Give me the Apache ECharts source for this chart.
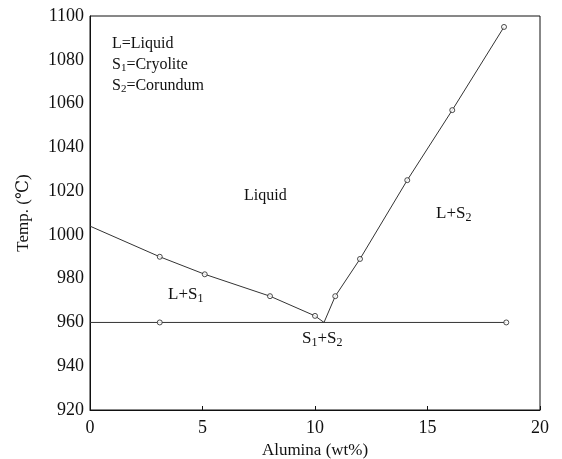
<!DOCTYPE html>
<html>
<head>
<meta charset="utf-8">
<script src="https://cdn.jsdelivr.net/npm/echarts@6/dist/echarts.min.js"></script>
<style>
  html, body { margin: 0; padding: 0; background: #fff; }
  #chart { width: 562px; height: 459px; }
</style>
</head>
<body>
<div id="chart"></div>
<script>
  // liquidus on the cryolite side (measured points + line to eutectic)
  var leftX = [0, 3.1, 5.1, 8.0, 10.0, 10.4]
  var leftT = [1004, 990, 982, 972, 963, 960]
  var leftMeasured = [false, true, true, true, true, false]
  // liquidus on the corundum side
  var rightX = [10.4, 10.9, 12.0, 14.1, 16.1, 18.4]
  var rightT = [960, 972, 989, 1025, 1057, 1095]
  var rightMeasured = [false, true, true, true, true, true]
  // eutectic line
  var eutX = [0, 3.1, 18.5]
  var eutT = [960, 960, 960]
  var eutMeasured = [false, true, true]

  var xTicks = [0, 5, 10, 15, 20]
  var yTicks = [920, 940, 960, 980, 1000, 1020, 1040, 1060, 1080, 1100]

  var serif = '"Liberation Serif", "DejaVu Serif", serif'
  var ink = '#111'

  function pairs(xs, ys) {
    return xs.map(function (x, i) { return [x, ys[i]] })
  }
  function pts(xs, ys, flags) {
    return pairs(xs, ys).filter(function (p, i) { return flags[i] })
  }

  var lineStyle = { color: '#333', width: 1 }
  var symStyle = { color: '#fff', borderColor: '#222', borderWidth: 1 }
  var sub = { fontFamily: serif, fontSize: 12, fill: ink, padding: [8, 0, 0, 0] }
  var big = { fontFamily: serif, fontSize: 17, fill: ink }

  var myChart = echarts.init(document.getElementById('chart'))
  var option = {
    animation: false,
    grid: {
      left: 90, right: 22, top: 16, bottom: 49,
      outerBoundsMode: 'none',
      show: true, borderColor: ink, borderWidth: 1
    },
    xAxis: {
      type: 'value',
      min: xTicks[0], max: xTicks[xTicks.length - 1], interval: 5,
      name: 'Alumina (wt%)',
      nameLocation: 'middle',
      nameGap: 32,
      nameTextStyle: { fontFamily: serif, fontSize: 17, color: ink },
      axisLine: { show: true, lineStyle: { color: ink } },
      axisTick: { show: true, inside: true, length: 4, lineStyle: { color: ink } },
      axisLabel: { fontFamily: serif, fontSize: 18, color: ink, margin: 9 },
      splitLine: { show: false }
    },
    yAxis: {
      type: 'value',
      min: yTicks[0], max: yTicks[yTicks.length - 1], interval: 20,
      name: 'Temp. (℃)',
      nameLocation: 'middle',
      nameGap: 58,
      nameRotate: 90,
      nameTextStyle: { fontFamily: serif, fontSize: 17, color: ink },
      axisLine: { show: true, lineStyle: { color: ink } },
      axisTick: { show: false },
      axisLabel: {
        fontFamily: serif, fontSize: 18, color: ink, margin: 6,
        formatter: function (v) { return String(v) }
      },
      splitLine: { show: false }
    },
    series: [
      { type: 'line', data: pairs(leftX, leftT), showSymbol: false, lineStyle: lineStyle },
      { type: 'line', data: pairs(rightX, rightT), showSymbol: false, lineStyle: lineStyle },
      { type: 'line', data: pairs(eutX, eutT), showSymbol: false, lineStyle: lineStyle },
      {
        type: 'scatter', symbol: 'circle', symbolSize: 5, itemStyle: symStyle,
        data: pts(leftX, leftT, leftMeasured)
          .concat(pts(rightX, rightT, rightMeasured))
          .concat(pts(eutX, eutT, eutMeasured)),
        z: 5
      }
    ],
    graphic: [
      {
        type: 'text', left: 112, top: 33,
        style: {
          text: '{n|L=Liquid}\n{n|S}{s|1}{n|=Cryolite}\n{n|S}{s|2}{n|=Corundum}',
          fill: ink, lineHeight: 21,
          rich: {
            n: { fontFamily: serif, fontSize: 16, fill: ink, lineHeight: 21 },
            s: { fontFamily: serif, fontSize: 11, fill: ink, padding: [7, 0, 0, 0] }
          }
        }
      },
      {
        type: 'text', left: 244, top: 188,
        style: { text: 'Liquid', fontFamily: serif, fontSize: 16, fill: ink }
      },
      {
        type: 'text', left: 436, top: 205,
        style: { text: '{n|L+S}{s|2}', fill: ink, rich: { n: big, s: sub } }
      },
      {
        type: 'text', left: 168, top: 286,
        style: { text: '{n|L+S}{s|1}', fill: ink, rich: { n: big, s: sub } }
      },
      {
        type: 'text', left: 302, top: 330,
        style: { text: '{n|S}{s|1}{n|+S}{s|2}', fill: ink, rich: { n: big, s: sub } }
      }
    ]
  }
  option && myChart.setOption(option)
  window.addEventListener('resize', myChart.resize)
</script>
</body>
</html>
